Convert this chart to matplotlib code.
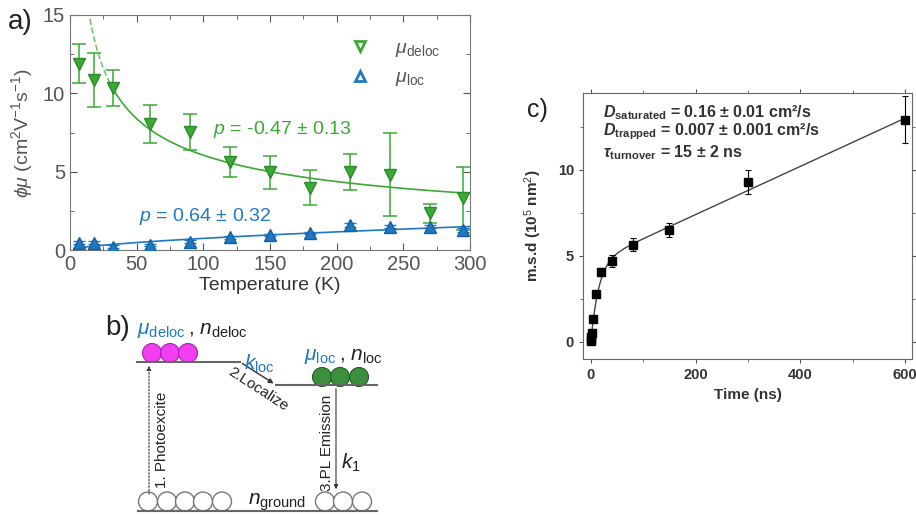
import matplotlib.pyplot as plt
import numpy as np
from matplotlib.patches import Circle, FancyArrowPatch
from matplotlib.ticker import MultipleLocator

plt.rcParams['font.family'] = ['Liberation Sans', 'DejaVu Sans']
plt.rcParams['mathtext.fontset'] = 'custom'
plt.rcParams['mathtext.rm'] = 'Liberation Sans'
plt.rcParams['mathtext.it'] = 'Liberation Sans:italic'
plt.rcParams['mathtext.bf'] = 'Liberation Sans:bold'
plt.rcParams['mathtext.bfit'] = 'Liberation Sans:bold:italic'

GREEN = '#3aaa35'
BLUE = '#1f78c1'
GREY = '#555555'

# panel a: mobility vs temperature
temp = [7, 18, 32, 60, 90, 120, 150, 180, 210, 240, 270, 295]
mu_deloc = [11.9, 10.85, 10.35, 8.05, 7.55, 5.6, 4.97, 3.98, 5.0, 4.8, 2.35, 3.3]
mu_deloc_err = [1.25, 1.75, 1.15, 1.2, 1.15, 0.95, 1.05, 1.1, 1.15, 2.65, 0.6, 2.0]
mu_loc = [0.47, 0.47, 0.21, 0.32, 0.53, 0.81, 0.96, 1.1, 1.6, 1.49, 1.49, 1.28]
mu_loc_err = [0.1, 0.1, 0.08, 0.08, 0.08, 0.08, 0.08, 0.08, 0.1, 0.1, 0.1, 0.1]
p_deloc, p_deloc_err = -0.47, 0.13
p_loc, p_loc_err = 0.64, 0.32
amp_deloc = 5.0 / 150 ** p_deloc
amp_loc = 1.5 / 300 ** p_loc

# panel c: mean square displacement vs time
time_ns = [0, 0.5, 1, 2, 5, 10, 20, 40, 80, 150, 300, 600]
msd = [0.02, 0.12, 0.3, 0.5, 1.35, 2.75, 4.05, 4.7, 5.65, 6.5, 9.3, 12.9]
msd_err = [0.05, 0.05, 0.05, 0.08, 0.1, 0.15, 0.25, 0.35, 0.4, 0.4, 0.7, 1.35]
d_sat, d_trap, tau = 0.16, 0.007, 15.0

fig = plt.figure(figsize=(9.16, 5.15), dpi=100)

# ---- a)
ax = fig.add_axes([70 / 916, 1 - 250 / 515, 400 / 916, 235 / 515])
ax.errorbar(temp, mu_deloc, yerr=mu_deloc_err, fmt='v', color=GREEN, ms=8,
            mfc=GREEN, mec='#2b8a2b', capsize=5, elinewidth=1.1, capthick=1.1,
            zorder=3)
ax.errorbar(temp, mu_loc, yerr=mu_loc_err, fmt='^', color=BLUE, ms=8,
            mfc=BLUE, mec='#18609c', capsize=4, elinewidth=1, zorder=3)
t_dash = np.linspace(15, 33, 30)
t_solid = np.linspace(33, 300, 200)
ax.plot(t_dash, amp_deloc * t_dash ** p_deloc, '--', color='#7cbf7a', lw=1.2)
ax.plot(t_solid, amp_deloc * t_solid ** p_deloc, '-', color=GREEN, lw=1.2)
t_loc = np.linspace(3, 300, 200)
ax.plot(t_loc, amp_loc * t_loc ** p_loc, '-', color=BLUE, lw=1.2)

ax.text(107, 7.7, f'$p$ = {p_deloc} $\\pm$ {p_deloc_err}', color=GREEN,
        fontsize=14, va='center')
ax.text(52, 2.15, f'$p$ = {p_loc} $\\pm$ {p_loc_err}', color=BLUE,
        fontsize=14, va='center')

ax.plot([], [], 'v', color=GREEN, mfc='white', mew=2, ms=7,
        label=r'$\mu_{\rm deloc}$')
ax.plot([], [], '^', color=BLUE, mfc='white', mew=2, ms=7,
        label=r'$\mu_{\rm loc}$')
ax.legend(loc='upper right', frameon=False, fontsize=14, handletextpad=0.8,
          bbox_to_anchor=(0.97, 0.97), labelcolor=GREY)

ax.set_xlim(0, 300)
ax.set_ylim(0, 15)
ax.xaxis.set_major_locator(MultipleLocator(50))
ax.xaxis.set_minor_locator(MultipleLocator(25))
ax.yaxis.set_major_locator(MultipleLocator(5))
ax.yaxis.set_minor_locator(MultipleLocator(2.5))
ax.tick_params(which='both', direction='in', top=True, right=True,
               colors=GREY, labelsize=14.5)
ax.tick_params(which='major', length=5)
ax.tick_params(which='minor', length=3)
for s in ax.spines.values():
    s.set_color('#777777')
ax.set_xlabel('Temperature (K)', fontsize=14, color='#333333', labelpad=2)
ax.set_ylabel(r'$\phi\mu$ (cm$^2$V$^{-1}$s$^{-1}$)', fontsize=14,
              color=GREY, labelpad=6)
fig.text(8 / 916, 1 - 22 / 515, 'a)', fontsize=20, va='center', color='#222222')

# ---- c)
axc = fig.add_axes([583 / 916, 1 - 359 / 515, 329 / 916, 266 / 515])
t_fit = np.linspace(0, 600, 600)
msd_fit = 2 * d_trap * t_fit + 2 * (d_sat - d_trap) * tau * (1 - np.exp(-t_fit / tau))
axc.plot(t_fit, msd_fit, '-', color='#444444', lw=1)
axc.errorbar(time_ns, msd, yerr=msd_err, fmt='s', color='black', ms=6,
             capsize=2.5, elinewidth=0.8, capthick=0.8, zorder=3)
axc.set_xlim(-15, 613)
axc.set_ylim(-1, 14.45)
axc.xaxis.set_major_locator(MultipleLocator(200))
axc.xaxis.set_minor_locator(MultipleLocator(100))
axc.yaxis.set_major_locator(MultipleLocator(5))
axc.yaxis.set_minor_locator(MultipleLocator(2.5))
axc.tick_params(which='both', direction='out', top=True, right=True,
                colors='#555555', labelsize=10.5, labelcolor='#333333')
axc.tick_params(which='major', length=3)
axc.tick_params(which='minor', length=2)
for lab in axc.get_xticklabels() + axc.get_yticklabels():
    lab.set_fontweight('bold')
for s in axc.spines.values():
    s.set_color('#666666')
axc.set_xlabel('Time (ns)', fontsize=11, fontweight='bold', color='#333333')
axc.set_ylabel(r'm.s.d (10$^5$ nm$^2$)', fontsize=11, fontweight='bold',
               color='#333333', labelpad=10)
axc.text(0.06, 0.925,
         r'$\mathbfit{D}_{\mathbf{saturated}}$' + f' = {d_sat} ± 0.01 cm²/s',
         transform=axc.transAxes, fontsize=11.5, fontweight='bold',
         color='#333333', va='center')
axc.text(0.06, 0.855,
         r'$\mathbfit{D}_{\mathbf{trapped}}$' + f' = {d_trap} ± 0.001 cm²/s',
         transform=axc.transAxes, fontsize=11.5, fontweight='bold',
         color='#333333', va='center')
axc.text(0.06, 0.775,
         r'$\mathbfit{\tau}_{\mathbf{turnover}}$' + f' = {tau:.0f} ± 2 ns',
         transform=axc.transAxes, fontsize=11.5, fontweight='bold',
         color='#333333', va='center')
fig.text(527 / 916, 1 - 110 / 515, 'c)', fontsize=18, va='center',
         color='#222222')

# ---- b) schematic, drawn in pixel coordinates
axb = fig.add_axes([0, 0, 1, 1], zorder=-1)
axb.set_xlim(0, 916)
axb.set_ylim(515, 0)
axb.axis('off')
line_kw = dict(color='#666666', lw=1.5)
axb.plot([137, 240], [362, 362], **line_kw)
axb.plot([276, 377], [385, 385], **line_kw)
axb.plot([138, 377], [511, 511], **line_kw)
axb.add_patch(FancyArrowPatch((240, 362), (276, 385), arrowstyle='-|>',
                              mutation_scale=7, color='#333333', lw=1))
for cx in (152, 170, 188):
    axb.add_patch(Circle((cx, 353), 9.5, fc='#f03ef0', ec='#b020b0', lw=0.8))
for cx in (322, 340, 359):
    axb.add_patch(Circle((cx, 377), 9.5, fc='#3c8f3c', ec='#1f5f1f', lw=0.8))
for cx in (148, 167, 185, 203, 222, 325, 343, 362):
    axb.add_patch(Circle((cx, 501.5), 9.5, fc='white', ec='#777777', lw=1))
axb.add_patch(FancyArrowPatch((149, 497), (149, 363), arrowstyle='-|>',
                              mutation_scale=6, color='#333333', lw=0.8,
                              linestyle=(0, (1.5, 1.5))))
axb.add_patch(FancyArrowPatch((336, 386), (336, 492), arrowstyle='-|>',
                              mutation_scale=6, color='#333333', lw=0.8))
axb.text(105, 328, 'b)', fontsize=20, va='center', color='#222222')
axb.text(137, 331, r'$\mu_{\rm deloc}$', fontsize=15, color=BLUE, va='center')
axb.text(188, 331, r', $n_{\rm deloc}$', fontsize=15, color='#222222',
         va='center')
axb.text(244, 364, r'$k_{\rm loc}$', fontsize=15, color=BLUE, va='center')
axb.text(258, 389, '2.Localize', fontsize=11, color='#222222', rotation=-33,
         ha='center', va='center', rotation_mode='anchor')
axb.text(304, 357, r'$\mu_{\rm loc}$', fontsize=15, color=BLUE, va='center')
axb.text(339, 357, r', $n_{\rm loc}$', fontsize=15, color='#222222',
         va='center')
axb.text(162, 440, '1. Photoexcite', fontsize=11, color='#222222',
         rotation=90, ha='center', va='center')
axb.text(327, 443, '3.PL Emission', fontsize=11, color='#222222',
         rotation=90, ha='center', va='center')
axb.text(341, 463, r'$k_1$', fontsize=15, color='#222222', va='center')
axb.text(248, 502, r'$n_{\rm ground}$', fontsize=15, color='#222222',
         va='center')

fig.savefig('out.png', dpi=100)
